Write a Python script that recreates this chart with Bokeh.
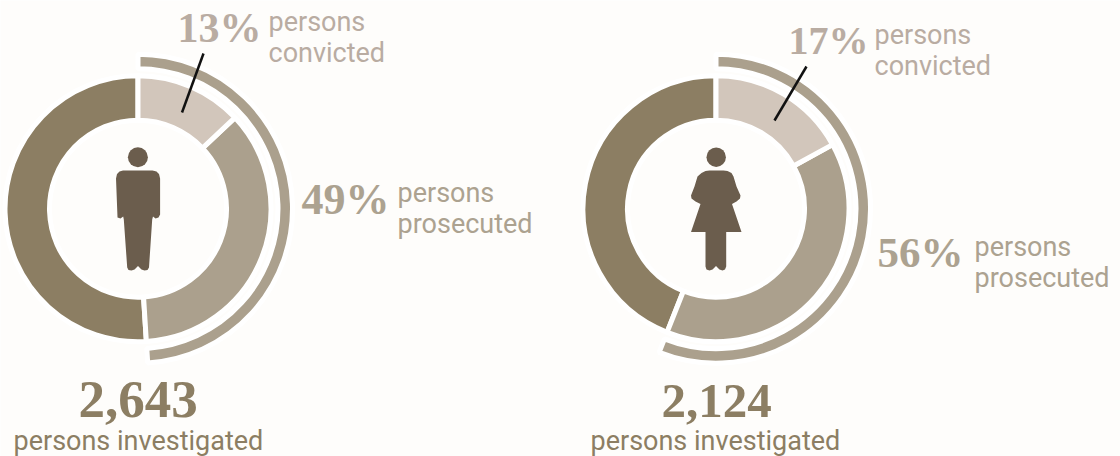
import numpy as np
from bokeh.plotting import figure
from bokeh.models import Range1d
from bokeh.core.properties import value
from bokeh.embed import file_html
from bokeh.resources import INLINE

groups = ["men", "women"]
investigated = ["2,643", "2,124"]
convicted_pct = [13, 17]
prosecuted_pct = [49, 56]

BG = "#fefdfb"
C_REST = "#8c7e63"
C_PROS = "#aba08d"
C_CONV = "#d2c6bb"
C_ICON = "#6b5d4d"
T_CONV = "#b9aca2"
T_PROS = "#aca290"
T_INV = "#8c7e63"

W, H = 1120, 456
p = figure(width=W, height=H, output_backend="svg", toolbar_location=None,
           x_range=Range1d(0, W), y_range=Range1d(0, H), min_border=0,
           margin=0)
p.axis.visible = False
p.grid.visible = False
p.outline_line_color = None
p.background_fill_color = BG
p.border_fill_color = BG


def Y(py):
    return H - np.asarray(py, dtype=float)


def wedge(cx, cy, r0, r1, a0, a1, color):
    # a0, a1: clockwise fractions of a full turn from 12 o'clock
    s = np.pi / 2 - a0 * 2 * np.pi
    e = np.pi / 2 - a1 * 2 * np.pi
    p.annular_wedge([cx], [Y(cy)], inner_radius=r0, outer_radius=r1, start_angle=s, end_angle=e,
                    direction="clock", fill_color=color, line_color="#ffffff", line_width=5)


def label(x, y, s, size, color, font, style="normal"):
    y = y - 0.37 * size  # the renderer sets baseline text this far below its anchor
    p.text([x], [Y(y)], text=[s], text_font=value(font), text_font_size=f"{size}px",
           text_font_style=style, text_color=color, text_baseline="alphabetic", text_align="left")


def donut(cx, cy, conv, pros):
    c, q = conv / 100, pros / 100
    wedge(cx, cy, 140, 154.5, 0, q, C_PROS)
    wedge(cx, cy, 88.5, 133, q, 1, C_REST)
    wedge(cx, cy, 88.5, 133, c, q, C_PROS)
    wedge(cx, cy, 88.5, 133, 0, c, C_CONV)


centers = [(137.5, 208.2), (715.5, 208.2)]
for (cx, cy), c, q in zip(centers, convicted_pct, prosecuted_pct):
    donut(cx, cy, c, q)

# icons
man_x = [115.5, 116.5, 119, 122.5, 152, 156, 158.5, 159.6, 159.6, 158, 155, 152.5, 151.7, 148.5, 147, 144, 141, 137.5, 134, 131, 128, 126.7, 123.3, 122.7, 120, 117]
man_y = [178, 173.5, 171, 170, 170, 171, 173.5, 178, 214, 217, 218, 216, 219, 267, 269.5, 270, 269, 265.5, 269, 270, 269.5, 267, 219, 216, 218, 217]
p.patch(man_x, Y(man_y), fill_color=C_ICON, line_color=None)
p.circle([137.4], [Y(156.7)], radius=10, fill_color=C_ICON, line_color=None)

wom_x = [701, 705, 709, 723, 727, 731, 733, 736, 740, 739.5, 736, 731.5, 741, 725.7, 725.7, 724.5, 722, 719, 715.5, 712, 709, 706, 705, 705, 690.5, 700, 695, 691, 690.5, 694, 697]
wom_y = [172.5, 170.5, 170, 170, 170.5, 172.5, 176, 186, 195, 198, 201, 203.5, 231.5, 231.5, 266, 269, 270, 269, 265.5, 269, 270, 269, 266, 231.5, 231.5, 203.5, 201, 198, 195, 186, 176]
p.patch(wom_x, Y(wom_y), fill_color=C_ICON, line_color=None)
p.circle([715.7], [Y(156.7)], radius=9.7, fill_color=C_ICON, line_color=None)

# leader lines
p.line([203, 181.5], Y([53, 112]), line_color="#111111", line_width=2.5)
p.line([806, 774], Y([66, 120]), line_color="#111111", line_width=2.5)

NUM = "Liberation Serif"
TXT = "Roboto"
label(177, 43, f"{convicted_pct[0]}%", 42, T_CONV, NUM, "bold")
label(268, 31, "persons", 27, T_CONV, TXT)
label(268, 62, "convicted", 27, T_CONV, TXT)
label(301, 215, f"{prosecuted_pct[0]}%", 44, T_PROS, NUM, "bold")
label(397, 202, "persons", 27, T_PROS, TXT)
label(397, 233, "prosecuted", 27, T_PROS, TXT)
label(788, 55, f"{convicted_pct[1]}%", 40, T_CONV, NUM, "bold")
label(874, 44, "persons", 27, T_CONV, TXT)
label(874, 75, "convicted", 27, T_CONV, TXT)
label(877, 268, f"{prosecuted_pct[1]}%", 43, T_PROS, NUM, "bold")
label(974, 256, "persons", 27, T_PROS, TXT)
label(974, 287, "prosecuted", 27, T_PROS, TXT)
label(78, 419, investigated[0], 53, T_INV, NUM, "bold")
label(13, 450, "persons investigated", 27, T_INV, TXT)
label(661, 419, investigated[1], 49, T_INV, NUM, "bold")
label(590, 450, "persons investigated", 27, T_INV, TXT)

open("out.html", "w").write(file_html(p, INLINE))
